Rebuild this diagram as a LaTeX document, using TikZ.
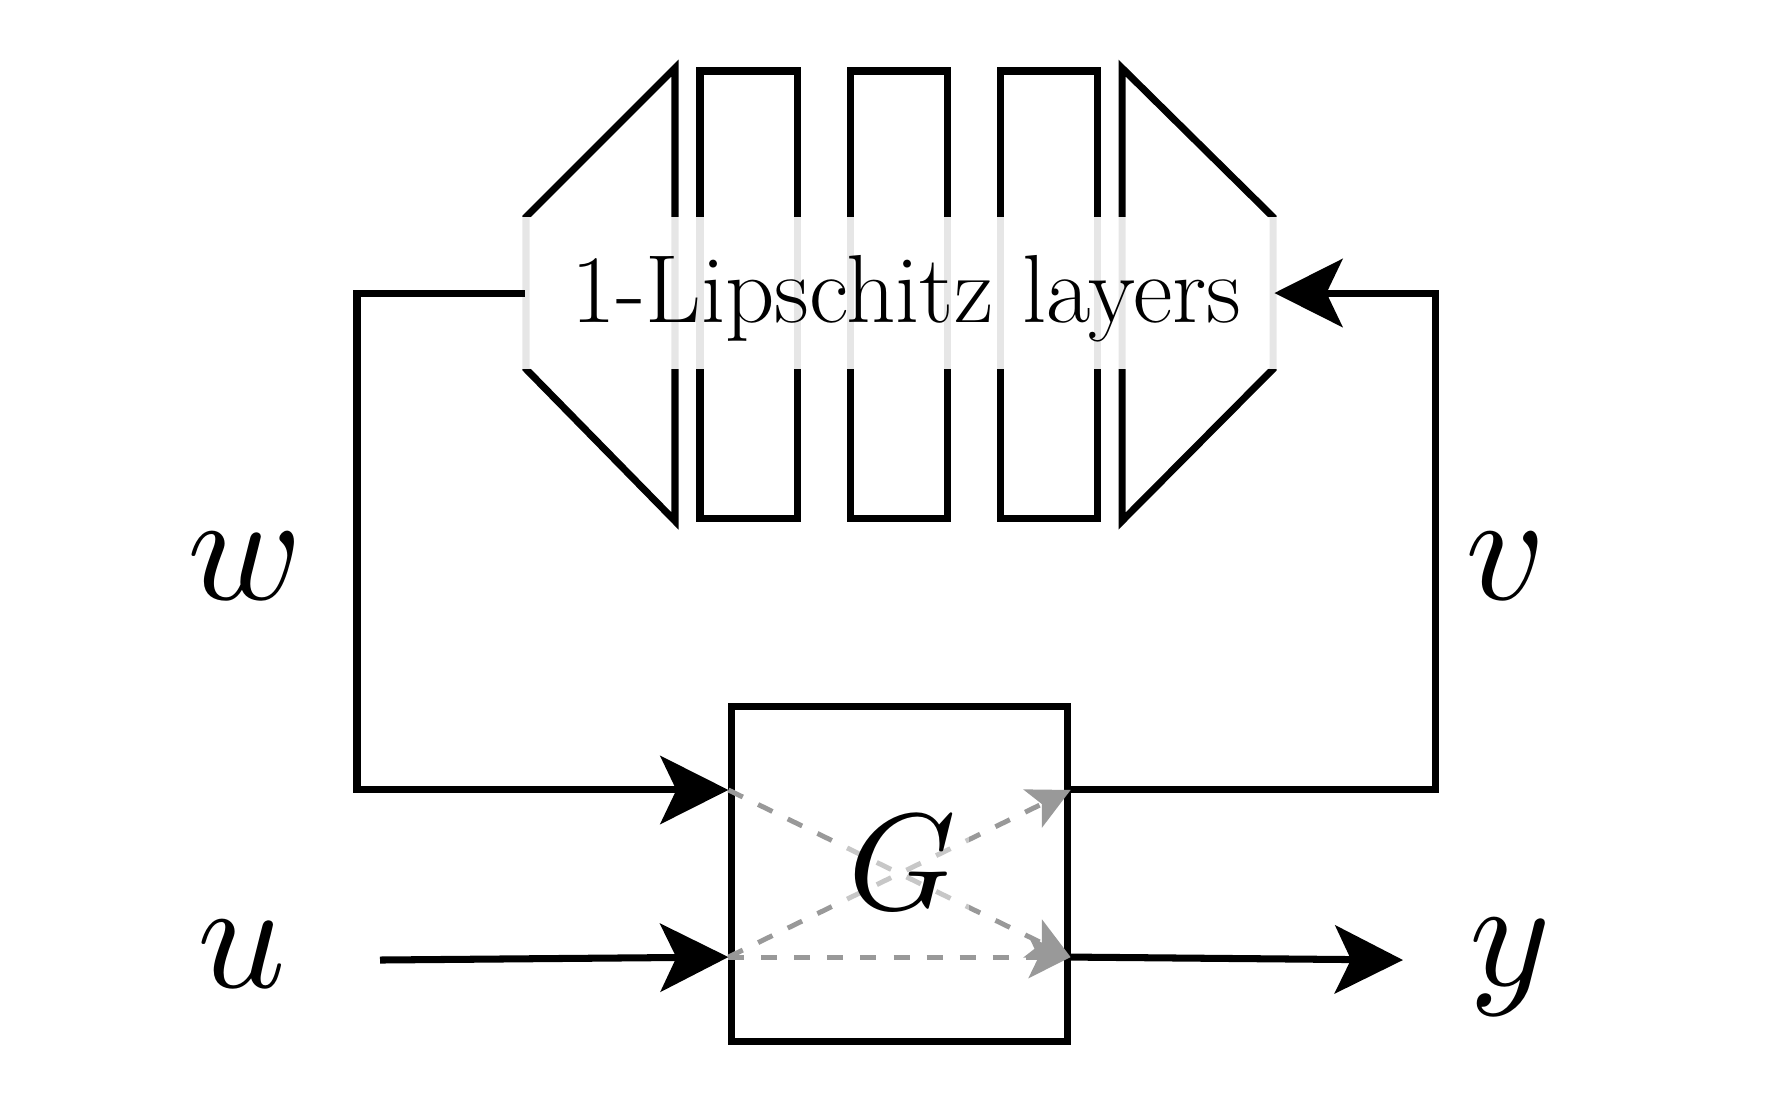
\documentclass[tikz,border=0pt]{standalone}
\usepackage{graphicx}
\usetikzlibrary{arrows.meta}
\begin{document}
\begin{tikzpicture}[x=0.01cm,y=-0.01cm,
  line/.style={line width=2pt,line join=miter},
  blk/.style={-{Stealth[length=0.68cm,width=0.68cm,inset=0.16cm]}},
  gdash/.style={draw=black!40,line width=1.4pt,dash pattern=on 0.16cm off 0.17cm,
    -{Stealth[length=0.42cm,width=0.42cm,inset=0.1cm]}}]
\useasboundingbox (0,0) rectangle (1792,1114);
% layer shapes
\draw[line] (526,217) -- (675,68) -- (675,521) -- (526,369) -- cycle;
\draw[line] (700,71) rectangle (797,518);
\draw[line] (850,71) rectangle (947,518);
\draw[line] (1000,71) rectangle (1097,518);
\draw[line] (1122,68) -- (1273,217) -- (1273,369) -- (1122,521) -- cycle;
\node[fill=white,fill opacity=0.9,text opacity=1,minimum width=7.56cm,minimum height=1.52cm,
  inner sep=0pt,text height=0.6cm,text depth=0.02cm,font=\fontsize{25}{30}\selectfont]
  (layers) at (899.5,293) {\hspace*{0.14cm}\scalebox{1.1}{1-Lipschitz layers}};
% G box
\node[draw,line,minimum size=3.35cm,inner sep=0pt] (Gbox) at (899.5,874) {};
\coordinate (i1) at ([yshift=0.84cm]Gbox.west);
\coordinate (i2) at ([yshift=-0.83cm]Gbox.west);
\coordinate (o1) at ([yshift=0.84cm]Gbox.east);
\coordinate (o2) at ([yshift=-0.83cm]Gbox.east);
\draw[gdash] (i1) -- (o2);
\draw[gdash] (i2) -- (o1);
\draw[gdash] (i2) -- (o2);
\node[fill=white,fill opacity=0.45,text opacity=1,inner sep=0.13cm] (G) at (902,863) {\scalebox{3.9}{$G$}};
% feedback
\coordinate (wc) at (357,293);
\coordinate (vc) at (1435,293);
\draw[line,blk] ([xshift=0.04cm]layers.west) -- (wc) |- (i1);
\draw[line,blk] (o1) -| (vc) -- ([xshift=-0.04cm]layers.east);
% labels
\node (w) at (245,566) {\scalebox{4.4}{$w$}};
\node (v) at (1506,566) {\scalebox{4.4}{$v$}};
\node (u) at (242,954) {\scalebox{4.4}{$u$}};
\node (y) at (1510,967) {\scalebox{4.4}{$y$}};
\coordinate (us) at (380,960);
\coordinate (ye) at (1403,960);
\draw[line,blk] (us) -- (i2);
\draw[line,blk] (o2) -- (ye);
\end{tikzpicture}
\end{document}
